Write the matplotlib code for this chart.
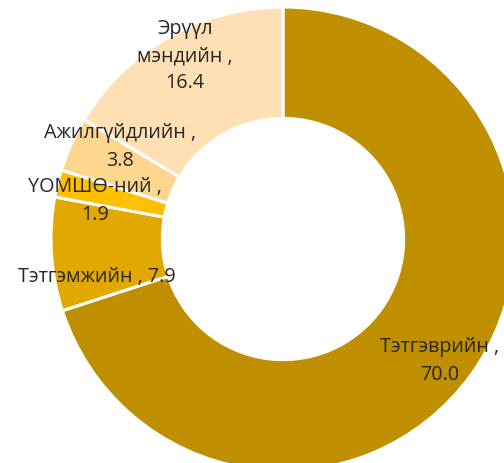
import matplotlib
matplotlib.use("Agg")
import matplotlib.pyplot as plt

categories = ["Тэтгэврийн", "Тэтгэмжийн", "ҮОМШӨ-ний", "Ажилгүйдлийн", "Эрүүл мэндийн"]
values = [70.0, 7.9, 1.9, 3.8, 16.4]
colors = ["#BF8F00", "#E0A800", "#FFC000", "#FFD68F", "#FFE0B5"]

plt.rcParams['font.family'] = ['Open Sans', 'DejaVu Sans']

W, H = 504, 464
fig = plt.figure(figsize=(W / 100, H / 100), dpi=100)
ax = fig.add_axes([0, 0, 1, 1])

cx, cy, R = 283, 240, 232
ax.pie(values, colors=colors, startangle=90, counterclock=False, radius=1.0,
       wedgeprops=dict(width=0.48, edgecolor="white", linewidth=2.2))
ax.set_xlim(-cx / R, (W - cx) / R)
ax.set_ylim(-(H - cy) / R, cy / R)
ax.set_aspect("auto")
ax.axis("off")

labels = [
    ("Тэтгэврийн ,\n70.0", 440, 361),
    ("Тэтгэмжийн , 7.9", 97, 277),
    ("ҮОМШӨ-ний ,\n1.9", 95, 201),
    ("Ажилгүйдлийн ,\n3.8", 120, 147),
    ("Эрүүл\nмэндийн ,\n16.4", 185, 56),
]
for text, px, py in labels:
    fig.text(px / W, 1 - py / H, text, ha="center", va="center",
             fontsize=14.2, color="#262626", linespacing=1.48)

fig.savefig("out.png", dpi=100)
